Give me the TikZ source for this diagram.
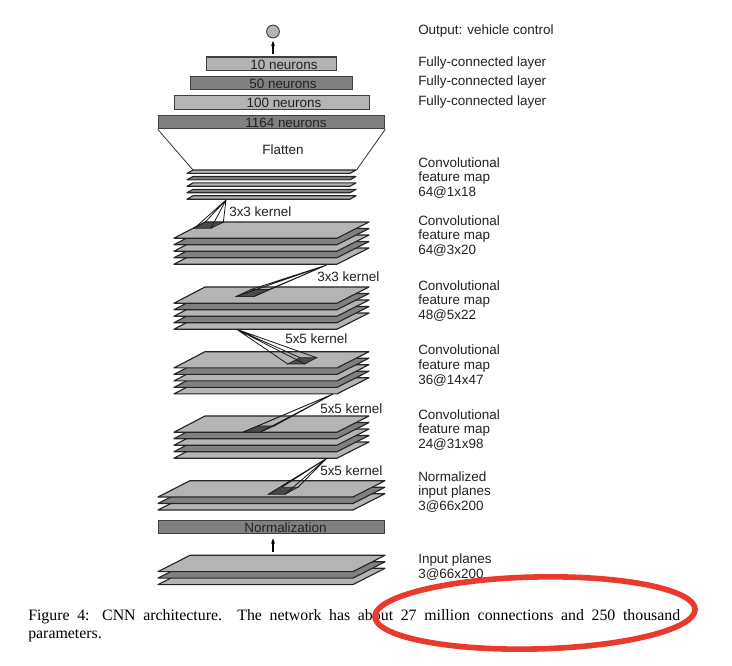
\documentclass[tikz,border=0pt]{standalone}
\usepackage{fontspec}
\setmainfont{Liberation Serif}
\newfontfamily\arialf{Liberation Sans}
\definecolor{lightpl}{HTML}{B4B4B4}
\definecolor{darkpl}{HTML}{808080}
\definecolor{kernelc}{HTML}{4A4A4A}
\definecolor{inkc}{HTML}{222222}
\definecolor{redmark}{HTML}{E93A2B}
\usetikzlibrary{arrows.meta}
\tikzset{
  lab/.style={font=\arialf\fontsize{10.1}{10.95}\selectfont,text=inkc,anchor=west,align=left,inner sep=0pt},
  dense/.style={draw=black!75,line width=0.8pt,inner sep=0pt,minimum height=10pt},
  denselab/.style={inner sep=0pt,font=\arialf\fontsize{10.1}{10}\selectfont,text=inkc},
  plane/.style={draw=black!85,line width=0.85pt,line join=round},
  ray/.style={draw=black!90,line width=0.6pt},
  kbase/.style={fill=kernelc,draw=black!85,line width=0.5pt},
  uparrow/.style={-{Stealth[length=4pt,width=3pt]},line width=0.8pt,draw=black},
}
% #1 top y, #2 count, #3 bottom-left x, #4 top-left x, #5 top-right x, #6 bottom-right x, #7 plane height, #8 spacing
\newcommand{\planestack}[8]{%
  \pgfmathtruncatemacro{\stacklast}{#2-1}%
  \foreach \i in {\stacklast,...,0}{%
    \pgfmathtruncatemacro{\ev}{mod(\i,2)}%
    \ifnum\ev=0 \def\pc{lightpl}\else \def\pc{darkpl}\fi
    \pgfmathsetmacro{\ya}{#1+\i*#8}%
    \pgfmathsetmacro{\yb}{#1+\i*#8+#7}%
    \path[plane,fill=\pc] (#3,\yb) -- (#4,\ya) -- (#5,\ya) -- (#6,\yb) -- cycle;
  }%
}
% #1 apex name, #2..#5 base corners
\newcommand{\kernelcone}[5]{%
  \path[kbase] #2 -- #3 -- #4 -- #5 -- cycle;
  \draw[ray] (#1) -- #2 (#1) -- #3 (#1) -- #4 (#1) -- #5;
}
\begin{document}
\begin{tikzpicture}[x=0.75pt,y=-0.75pt]
\useasboundingbox (0,0) rectangle (732,666);
\fill[white] (0,0) rectangle (732,666);

% output and dense layers
\node[circle,draw=black!75,fill=lightpl,line width=0.7pt,minimum size=9.6pt,inner sep=0pt] (out) at (273,31.5) {};
\node[dense,fill=lightpl,minimum width=97.5pt] (n10) at (271.7,63.7) {};
\node[dense,fill=darkpl,minimum width=121.5pt] (n50) at (271.7,83.2) {};
\node[dense,fill=lightpl,minimum width=146.5pt] (n100) at (271.7,102.5) {};
\node[dense,fill=darkpl,minimum width=170pt] (n1164) at (271.5,122) {};
\node[denselab] (t10) at (284,64.5) {10 neurons};
\node[denselab] (t50) at (283,84) {50 neurons};
\node[denselab] (t100) at (284,103.3) {100 neurons};
\node[denselab] (t1164) at (286,122.8) {1164 neurons};
\coordinate (a1s) at (273,54);
\coordinate (a1e) at (273,41);
\draw[uparrow] (a1s) -- (a1e);

% flatten
\coordinate (f1) at (193,170);
\coordinate (f2) at (356.5,170);
\draw[draw=black!80,line width=0.6pt] (n1164.south west) -- (f1);
\draw[draw=black!80,line width=0.6pt] (n1164.south east) -- (f2);
\node[lab,anchor=center] (flat) at (283,150) {Flatten};

% stacks
\planestack{170}{5}{187}{193}{356}{350}{3.4}{6.45}
\planestack{222}{5}{174}{205}{369}{337}{16.2}{6.5}
\planestack{287}{5}{174}{205}{369}{337}{16.2}{6.5}
\planestack{351.7}{5}{174}{205}{369}{337}{16.2}{6.5}
\planestack{416}{5}{174}{205}{369}{337}{16.2}{6.5}
\planestack{480.7}{3}{158}{190}{385}{353}{16.3}{6.5}
\planestack{555.3}{3}{158}{190}{385}{353}{16.3}{6.5}

% normalization
\node[dense,fill=darkpl,minimum width=170pt] (norm) at (271.5,526.7) {};
\node[denselab] (tnorm) at (285.5,527.5) {Normalization};
\coordinate (a2s) at (273,552);
\coordinate (a2e) at (273,538.5);
\draw[uparrow] (a2s) -- (a2e);

% kernels
\coordinate (k1) at (226,200);
\coordinate (k2) at (326.7,265);
\coordinate (k3) at (236.7,329.3);
\coordinate (k4) at (333,394);
\coordinate (k5) at (326.7,458.3);
\kernelcone{k1}{(194.3,228.3)}{(211,228.3)}{(223.3,222.3)}{(205,222.3)}
\kernelcone{k2}{(236,296.5)}{(254,296.5)}{(269,289.5)}{(251,289.5)}
\kernelcone{k3}{(287.7,364)}{(305,364)}{(316.7,357.7)}{(300,357.7)}
\kernelcone{k4}{(243.3,432)}{(260.7,432)}{(274,426)}{(258,426)}
\kernelcone{k5}{(268.3,494.3)}{(285,494.3)}{(298,487.3)}{(281.7,487.3)}

\node[lab] (kl1) at (229,212) {3x3 kernel};
\node[lab] (kl2) at (317,276.5) {3x3 kernel};
\node[lab] (kl3) at (285,338.5) {5x5 kernel};
\node[lab] (kl4) at (320,408.5) {5x5 kernel};
\node[lab] (kl5) at (320,470.5) {5x5 kernel};

% right-hand labels
\node[lab] (r0) at (418,31.5) {Output: vehicle control};
\node[lab] (r1) at (418,63) {Fully-connected layer};
\node[lab] (r2) at (418,82.5) {Fully-connected layer};
\node[lab] (r3) at (418,102) {Fully-connected layer};
\node[lab] (r4) at (418,178) {Convolutional\\feature map\\64@1x18};
\node[lab] (r5) at (418,236) {Convolutional\\feature map\\64@3x20};
\node[lab] (r6) at (418,301) {Convolutional\\feature map\\48@5x22};
\node[lab] (r7) at (418,365.5) {Convolutional\\feature map\\36@14x47};
\node[lab] (r8) at (418,430) {Convolutional\\feature map\\24@31x98};
\node[lab] (r9) at (418,492) {Normalized\\input planes\\3@66x200};
\node[lab] (r10) at (418,567) {Input planes\\3@66x200};

% caption
\node[anchor=north west,inner sep=0pt,align=left,font=\fontsize{11.9}{13.5}\selectfont,text=black] (cap) at (28,609.5) {\makebox[489pt][s]{Figure 4: CNN architecture.\ \ The network has about 27 million connections and 250 thousand}\\parameters.};

% red hand-drawn mark
\draw[redmark,line width=4.2pt,line join=round] plot[domain=0:356,samples=90,smooth] ({535+160*cos(\x)},{613+36*sin(\x)-3.5*cos(\x)}) -- cycle;
\end{tikzpicture}
\end{document}
